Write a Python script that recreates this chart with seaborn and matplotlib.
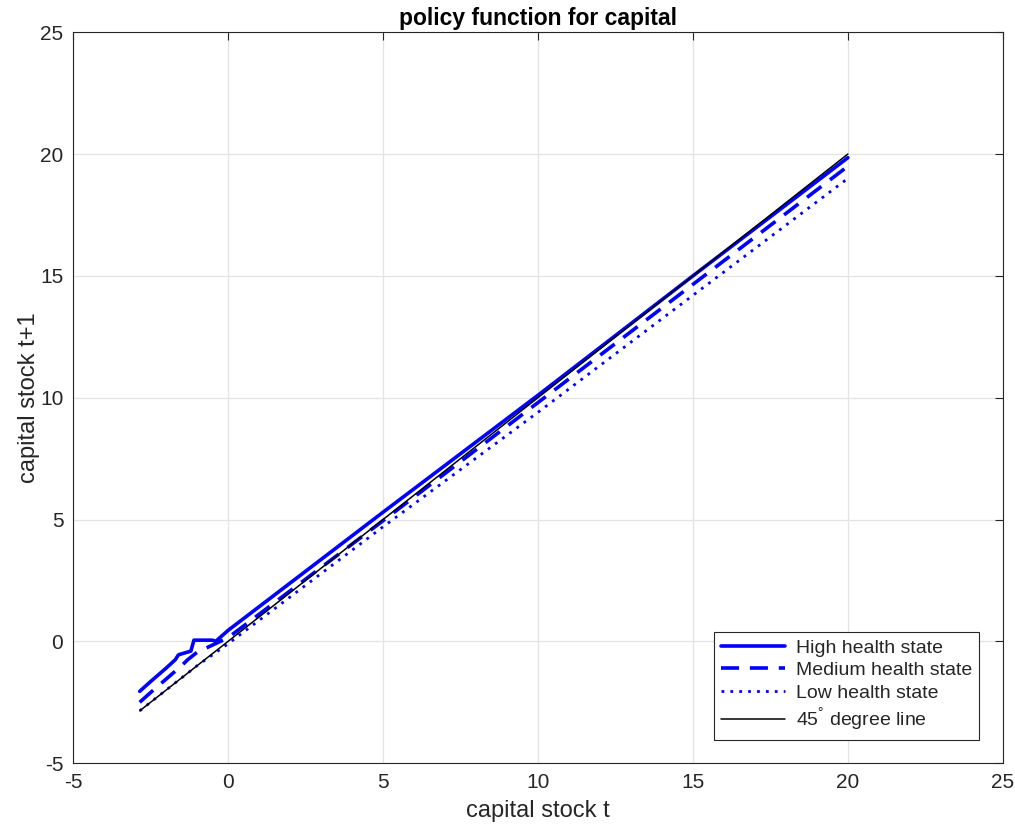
import matplotlib
matplotlib.use("Agg")
import matplotlib.pyplot as plt
import pandas as pd
import seaborn as sns

# values
k_high = [-2.85, -2.5, -2.0, -1.7, -1.6, -1.2, -1.1, -0.5, -0.4, 0, 5, 10, 15, 20]
high = [-2.05, -1.65, -1.1, -0.75, -0.55, -0.4, 0.05, 0.05, 0.0, 0.45, 5.3, 10.1, 15.0, 19.85]

k_med = [-2.85, -2.5, -2.0, -1.5, -1.3, -1.0, -0.5, 0, 5, 10, 15, 20]
medium = [-2.5, -2.1, -1.55, -1.0, -0.75, -0.45, -0.15, 0.15, 4.95, 9.8, 14.65, 19.5]

k_low = [-2.85, -2.0, -1.0, 0, 5, 10, 15, 20]
low = [-2.85, -2.0, -1.0, -0.1, 4.7, 9.4, 14.2, 19.0]

k_45 = [-2.85, 20]

labels = ["High health state", "Medium health state", "Low health state",
          "45$^{\\degree}$ degree line"]

df = pd.concat([
    pd.DataFrame({"k": k_high, "kp": high, "state": labels[0]}),
    pd.DataFrame({"k": k_med, "kp": medium, "state": labels[1]}),
    pd.DataFrame({"k": k_low, "kp": low, "state": labels[2]}),
    pd.DataFrame({"k": k_45, "kp": k_45, "state": labels[3]}),
])

sns.set_style("whitegrid")
plt.rcParams["font.family"] = ["Liberation Sans", "DejaVu Sans"]
plt.rcParams["mathtext.fontset"] = "custom"
plt.rcParams["mathtext.rm"] = "Liberation Sans"
plt.rcParams["axes.unicode_minus"] = False

fig = plt.figure(figsize=(10.15, 8.26), dpi=100)
ax = fig.add_axes([0.072, 0.076, 0.916, 0.885])

styles = {
    labels[0]: dict(color="#0000ff", lw=2.6, ls="-"),
    labels[1]: dict(color="#0000ff", lw=2.6, ls=(0, (5, 3))),
    labels[2]: dict(color="#0000ff", lw=2.0, ls=(0, (1, 2.2))),
    labels[3]: dict(color="black", lw=1.1, ls="-"),
}
for name in labels:
    sub = df[df["state"] == name]
    sns.lineplot(data=sub, x="k", y="kp", ax=ax, sort=False, estimator=None,
                 label=name, **styles[name])

ax.set_xlim(-5, 25)
ax.set_ylim(-5, 25)
ax.set_xticks(range(-5, 26, 5))
ax.set_yticks(range(-5, 26, 5))
ax.grid(True, color="#e3e3e3", lw=0.9)
for s in ax.spines.values():
    s.set_color("#262626")
    s.set_linewidth(0.8)
ax.tick_params(direction="in", length=6, width=0.8, color="#262626",
               labelsize=15, top=True, right=True, pad=7, labelcolor="#262626")
ax.set_xlabel("capital stock t", fontsize=17, color="#262626", labelpad=6)
ax.set_ylabel("capital stock t+1", fontsize=17, color="#262626", labelpad=0)
ax.set_title("policy function for capital", fontsize=16.5, fontweight="bold",
             color="black", pad=5)

leg = ax.legend(loc="lower right", fontsize=14, frameon=True, fancybox=False,
                edgecolor="#262626", framealpha=1, handlelength=3.3,
                borderaxespad=1.2, labelspacing=0.25, borderpad=0.35,
                handletextpad=0.6)
leg.get_frame().set_linewidth(0.8)

fig.savefig("out.png", dpi=100)
